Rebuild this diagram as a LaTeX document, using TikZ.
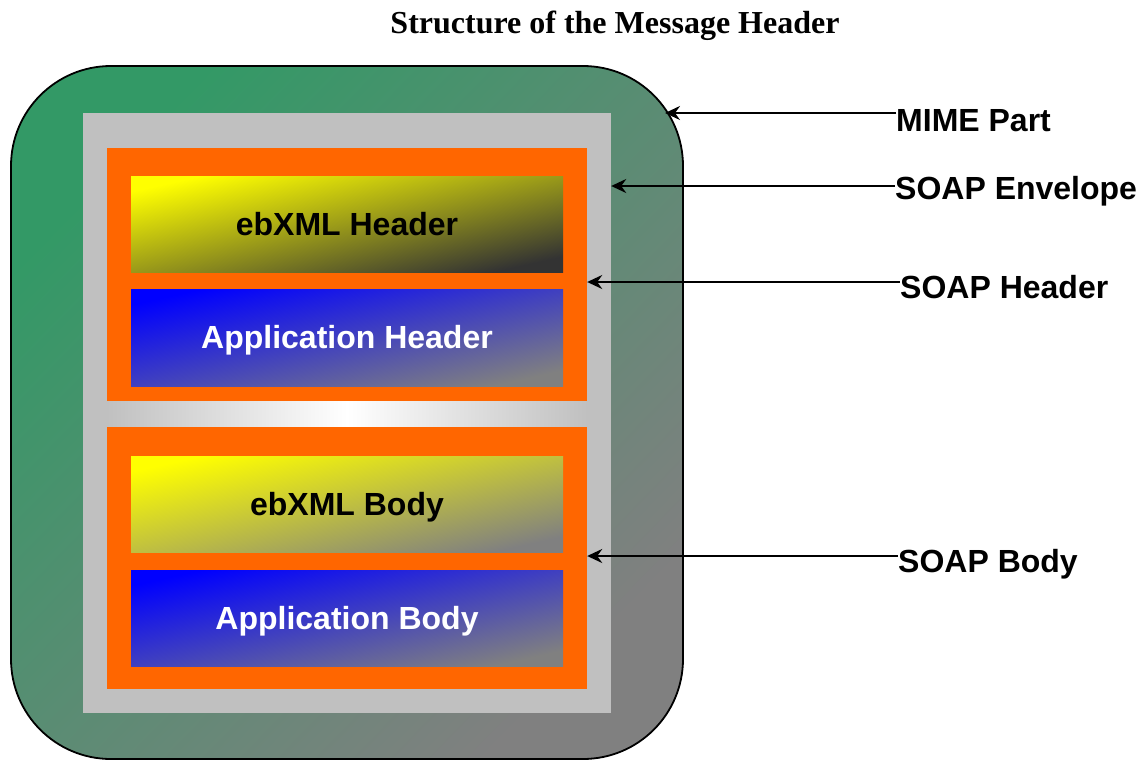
\documentclass[tikz,border=0pt]{standalone}
\usepackage{fontspec}
\setmainfont{Liberation Serif}
\newfontfamily\arialfont{Liberation Sans}
\usetikzlibrary{arrows.meta}
\definecolor{mimegreen}{HTML}{339966}
\definecolor{midgray}{HTML}{808080}
\definecolor{darkgraythree}{HTML}{333333}
\definecolor{silvergray}{HTML}{C0C0C0}
\definecolor{soaporange}{HTML}{FF6600}
\begin{document}
\begin{tikzpicture}[x=1pt,y=-1pt,
  lbl/.style={font=\arialfont\bfseries\fontsize{32}{36}\selectfont, inner sep=0pt, anchor=base west},
  box/.style={minimum width=432pt, minimum height=96pt, inner sep=0pt, text height=22pt, text depth=0pt,
    font=\arialfont\bfseries\fontsize{32}{36}\selectfont},
  ybox/.style={box, top color=yellow, bottom color=#1, shading angle=12.5, text=black},
  bbox/.style={box, top color=blue, bottom color=midgray, shading angle=12.6, text=white},
  orangebox/.style={fill=soaporange, minimum width=480pt, inner sep=0pt},
  arr/.style={line width=2.2pt, -{Stealth[length=15pt,width=14pt,inset=5pt]}}]
\useasboundingbox (0,0) rectangle (1140,761);
% title
\node[font=\bfseries\fontsize{32}{36}\selectfont, anchor=base, inner sep=0pt] (title) at (615,33) {Structure of the Message Header};
% MIME part
\node[draw, line width=1.8pt, rounded corners=100pt, minimum width=672pt, minimum height=693pt, inner sep=0pt,
  top color=mimegreen, bottom color=midgray, shading angle=45.9] (mime) at (347,412.5) {};
% SOAP envelope
\node[fill=silvergray, minimum width=528pt, minimum height=600pt, inner sep=0pt] (env) at (347,413) {};
\node[minimum width=480pt, minimum height=26pt, inner sep=0pt,
  left color=silvergray, right color=silvergray, middle color=white] (band) at (347,414) {};
% SOAP header / body
\node[orangebox, minimum height=253pt] (hdr) at (347,274.5) {};
\node[orangebox, minimum height=262pt] (body) at (347,558) {};
% inner boxes
\node[ybox=darkgraythree] (ebh) at (347,224) {ebXML Header};
\node[bbox, minimum height=97pt] (aph) at (347,337.5) {Application Header};
\node[ybox=midgray] (ebb) at (347,504) {ebXML Body};
\node[bbox] (apb) at (347,618) {Application Body};
% labels
\node[lbl] (lmime) at (896,131) {MIME Part};
\node[lbl] (lenv) at (895,199) {SOAP Envelope};
\node[lbl] (lhdr) at (900,298) {SOAP Header};
\node[lbl] (lbody) at (898,572) {SOAP Body};
% arrow tips
\coordinate (tmime) at (665,113);
\coordinate (tenv) at (env.east |- 0,186);
\coordinate (thdr) at (hdr.east |- 0,282);
\coordinate (tbody) at (body.east |- 0,556);
\draw[arr] (lmime.west |- tmime) -- (tmime);
\draw[arr] (lenv.west |- tenv) -- (tenv);
\draw[arr] (lhdr.west |- thdr) -- (thdr);
\draw[arr] (lbody.west |- tbody) -- (tbody);
\end{tikzpicture}
\end{document}
